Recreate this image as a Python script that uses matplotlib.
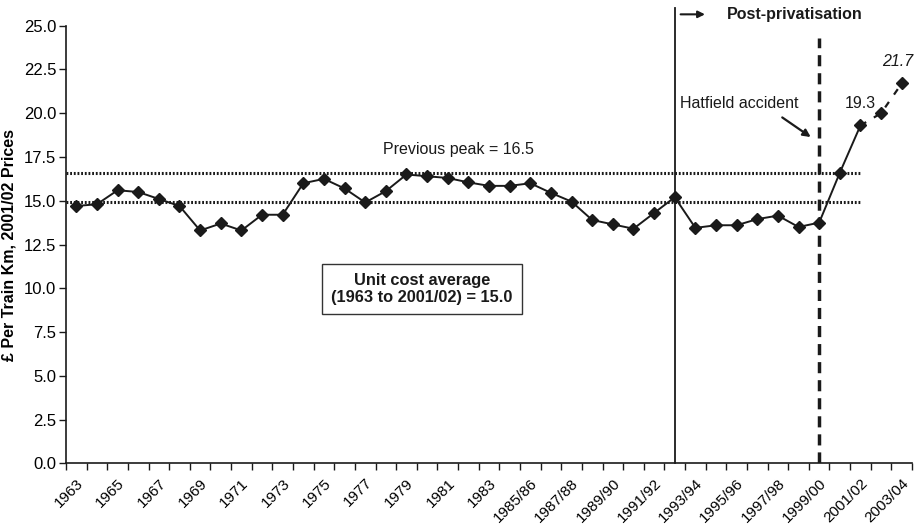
import numpy as np
import matplotlib
matplotlib.use("Agg")
import matplotlib.pyplot as plt
from matplotlib.transforms import ScaledTranslation

plt.rcParams['font.family'] = ['Liberation Sans', 'DejaVu Sans']

# categories: calendar years then financial years
years = [str(y) for y in range(1963, 1984)] + \
        ["%d/%02d" % (y, (y + 1) % 100) for y in range(1984, 2004)]

# unit cost, GBP per train km, 2001/02 prices
cost = [14.7, 14.8, 15.6, 15.5, 15.1, 14.7, 13.3, 13.7, 13.3, 14.2, 14.2,
        16.0, 16.25, 15.7, 14.9, 15.55, 16.5, 16.4, 16.3, 16.05, 15.85,
        15.85, 16.0, 15.45, 14.95, 13.9, 13.65, 13.4, 14.3, 15.2, 13.45,
        13.6, 13.6, 13.95, 14.15, 13.5, 13.75, 16.6, 19.3]
projected = [19.3, 20.0, 21.7]

peak_line = 16.6
avg_line = 14.9

ink = "#1a1a1a"

fig = plt.figure(figsize=(9.18, 5.27), dpi=100)
ax = fig.add_axes([0.0719, 0.1209, 0.9216, 0.8303])

x = np.arange(len(cost))
xp = np.arange(len(cost) - 1, len(cost) - 1 + len(projected))

ax.plot(x, cost, color=ink, lw=1.4, marker="D", ms=6.5, zorder=4)
ax.plot(xp, projected, color=ink, lw=1.6, ls=(0, (3, 4)), zorder=4)
ax.plot(xp[1:], projected[1:], ls="none", color=ink, marker="D", ms=6.5, zorder=4)

# reference lines
ax.plot([-0.5, len(cost) - 1], [peak_line, peak_line], color=ink, lw=2.2,
        ls=(0, (0.6, 0.6)), zorder=3)
ax.plot([-0.5, len(cost) - 1], [avg_line, avg_line], color=ink, lw=2.2,
        ls=(0, (0.6, 0.6)), zorder=3)

# privatisation and Hatfield
priv = years.index("1992/93")
hat = years.index("1999/00")
ax.plot([priv, priv], [0, 26.0], color=ink, lw=1.3, clip_on=False, zorder=2)
ax.plot([hat, hat], [0, 24.3], color=ink, lw=2.5, ls=(0, (3.2, 2.0)), zorder=2)

ax.annotate("", xy=(priv + 1.6, 25.65), xytext=(priv + 0.15, 25.65),
            arrowprops=dict(arrowstyle="-|>", color=ink, lw=1.5,
                            mutation_scale=10), annotation_clip=False)
ax.text(priv + 2.55, 25.65, "Post-privatisation", fontsize=11.5,
        fontweight="bold", va="center", ha="left", color=ink)

ax.text(hat - 6.75, 20.55, "Hatfield accident", fontsize=11.5, va="center",
        ha="left", color=ink)
ax.annotate("", xy=(35.7, 18.55), xytext=(34.1, 19.85),
            arrowprops=dict(arrowstyle="-|>", color=ink, lw=1.6,
                            mutation_scale=11))

ax.text(38.0, 20.55, "19.3", fontsize=11.5, ha="center", va="center", color=ink)
ax.text(39.8, 22.95, "21.7", fontsize=11.5, ha="center", va="center",
        style="italic", color=ink)
ax.text(18.5, 17.95, "Previous peak = 16.5", fontsize=11.5, ha="center",
        va="center", color=ink)

ax.text(16.75, 9.95, "Unit cost average\n(1963 to 2001/02) = 15.0",
        fontsize=11.8, fontweight="bold", ha="center", va="center", color=ink,
        linespacing=1.15,
        bbox=dict(boxstyle="square,pad=0.55", fc="white", ec="#333333", lw=1.0))

# axes
ax.set_xlim(-0.5, len(years) - 0.5)
ax.set_ylim(0, 25)
ax.set_yticks(np.arange(0, 25.1, 2.5))
ax.set_yticklabels(["%.1f" % v for v in np.arange(0, 25.1, 2.5)], fontsize=12)
ax.set_xticks(np.arange(0, len(years), 2))
ax.set_xticklabels(years[::2], rotation=45, ha="right", rotation_mode="anchor",
                   fontsize=11)
shift = ScaledTranslation(-9 / 100, 0, fig.dpi_scale_trans)
for lab in ax.get_xticklabels():
    lab.set_transform(lab.get_transform() + shift)
ax.set_xticks(np.arange(-0.5, len(years), 1), minor=True)
ax.tick_params(axis="x", which="major", length=0, pad=9)
ax.tick_params(axis="x", which="minor", length=5, width=1.0, color=ink)
ax.tick_params(axis="y", length=5, width=1.0, color=ink, pad=2)
for s in ["top", "right"]:
    ax.spines[s].set_visible(False)
for s in ["left", "bottom"]:
    ax.spines[s].set_color(ink)
    ax.spines[s].set_linewidth(1.2)

ax.set_ylabel("£ Per Train Km, 2001/02 Prices", fontsize=11.5,
              fontweight="bold", labelpad=5)

fig.savefig("out.png", dpi=100)
